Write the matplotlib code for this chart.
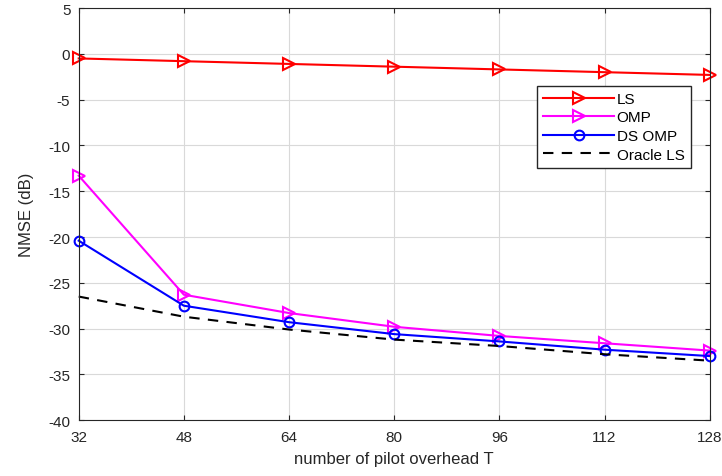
import numpy as np
import matplotlib
matplotlib.use('Agg')
from matplotlib import pyplot as plt

plt.rcParams['font.family'] = ['Liberation Sans', 'DejaVu Sans']
plt.rcParams['axes.unicode_minus'] = False

T = [32, 48, 64, 80, 96, 112, 128]
ls_nmse = [-0.5, -0.8, -1.1, -1.4, -1.7, -2.0, -2.3]
omp_nmse = [-13.3, -26.3, -28.3, -29.8, -30.8, -31.6, -32.4]
dsomp_nmse = [-20.4, -27.5, -29.3, -30.6, -31.4, -32.3, -33.0]
oracle_nmse = [-26.5, -28.7, -30.1, -31.2, -31.9, -32.8, -33.5]

fig = plt.figure(figsize=(7.22, 4.77), dpi=100)
ax = fig.add_axes([0.109, 0.117, 0.874, 0.864])

ax.plot(T, ls_nmse, color='red', marker='>', markersize=8, markerfacecolor='none',
        markeredgewidth=1.5, linewidth=1.5, label='LS', clip_on=False)
ax.plot(T, omp_nmse, color='magenta', marker='>', markersize=8, markerfacecolor='none',
        markeredgewidth=1.5, linewidth=1.5, label='OMP', clip_on=False)
ax.plot(T, dsomp_nmse, color='blue', marker='o', markersize=7, markerfacecolor='none',
        markeredgewidth=1.5, linewidth=1.5, label='DS OMP', clip_on=False)
ax.plot(T, oracle_nmse, color='black', linestyle=(0, (5, 4)), linewidth=1.5,
        label='Oracle LS', clip_on=False)

ax.set_xlim(32, 128)
ax.set_ylim(-40, 5)
ax.set_xticks(T)
ax.set_yticks(np.arange(-40, 6, 5))
ax.grid(True, color='#d9d9d9', linewidth=0.8)
ax.set_axisbelow(True)
ax.tick_params(direction='in', labelsize=11, colors='#262626', top=True, right=True)
ax.tick_params(axis='x', pad=7)
ax.tick_params(axis='y', pad=6)
for s in ax.spines.values():
    s.set_color('#262626')
ax.set_xlabel('number of pilot overhead T', fontsize=12, color='#262626', labelpad=5)
ax.set_ylabel('NMSE (dB)', fontsize=12, color='#262626', labelpad=10)

leg = ax.legend(loc='upper right', bbox_to_anchor=(0.982, 0.83), fontsize=11,
                fancybox=False, framealpha=1, edgecolor='#262626',
                handlelength=4.6, borderpad=0.4, labelspacing=0.3, handletextpad=0.2)
leg.get_frame().set_linewidth(1.0)

plt.savefig('out.png', dpi=100)
